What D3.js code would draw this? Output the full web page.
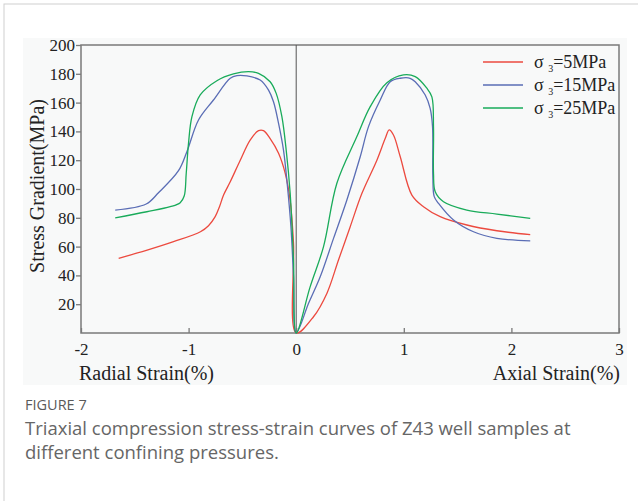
<!DOCTYPE html>
<html>
<head>
<meta charset="utf-8">
<script src="https://cdn.jsdelivr.net/npm/d3@7"></script>
<style>
  body { margin: 0; background: #fff; }
  svg { display: block; }
</style>
</head>
<body>
<div id="viz"></div>
<script>
// strain (%) : negative = radial, positive = axial ; stress (MPa)
var xTicks = [-2, -1, 0, 1, 2, 3];
var yTicks = [20, 40, 60, 80, 100, 120, 140, 160, 180, 200];
var seriesNames = ["5MPa", "15MPa", "25MPa"];
var seriesColors = ["#ec4a3f", "#5a6db5", "#19ab5a"];

var strain5 = [-1.65, -1.40, -1.14, -0.89, -0.815, -0.753, -0.713, -0.675, -0.613, -0.52, -0.428, -0.35, -0.304, -0.242, -0.164, -0.102, -0.056, -0.025, 0,
  0.161, 0.285, 0.393, 0.502, 0.611, 0.75, 0.827, 0.864, 0.904, 0.967, 1.075, 1.183, 1.338, 1.586, 1.865, 2.175];
var stress5 = [51.9, 57.2, 63.4, 70.3, 74.5, 80.8, 87.7, 95.8, 105, 120, 134, 140.5, 140.5, 135, 124.8, 110.9, 92, 62.3, 0,
  11.3, 27.5, 50.7, 73.8, 97, 120, 135, 141, 137.5, 122.4, 95.8, 87.7, 80.8, 75, 71, 68.3];

var strain15 = [-1.682, -1.394, -1.28, -1.094, -1.016, -0.908, -0.769, -0.613, -0.551, -0.458, -0.335, -0.257, -0.211, -0.164, -0.118, -0.081, -0.049, -0.025, 0,
  0.115, 0.223, 0.347, 0.471, 0.595, 0.672, 0.781, 0.874, 0.967, 1.059, 1.106, 1.199, 1.245, 1.267, 1.27, 1.283, 1.323, 1.462, 1.648, 1.865, 2.175];
var stress15 = [85.4, 89.6, 97.4, 112.7, 125.9, 147.9, 161.8, 176.9, 178.7, 178.5, 175.7, 168.7, 160.6, 145.6, 127, 101.6, 73.8, 39, 0,
  20.6, 39, 65.7, 92.4, 122.4, 143.3, 161.8, 174.5, 176.9, 176.9, 174.5, 165.3, 156, 143.3, 108.5, 94.7, 90, 78.5, 70.3, 65.7, 64];

var strain25 = [-1.682, -1.388, -1.171, -1.078, -1.041, -1.022, -1.001, -0.969, -0.892, -0.737, -0.583, -0.443, -0.35, -0.242, -0.186, -0.133, -0.093, -0.056, -0.025, 0,
  0.13, 0.254, 0.378, 0.564, 0.688, 0.843, 0.997, 1.106, 1.214, 1.261, 1.276, 1.276, 1.292, 1.369, 1.586, 1.865, 2.175];
var stress25 = [80, 84.2, 87.7, 90.5, 95.1, 110.9, 131.6, 150.2, 165.3, 175.2, 179.9, 181.5, 180.3, 174.5, 166.4, 150.2, 127, 97, 50.7, 0,
  32.2, 60, 104, 136.4, 157.2, 173.8, 179.2, 178, 170, 164, 143.3, 110.9, 98.1, 91.2, 85.4, 82.6, 79.6];

var strains = [strain5, strain15, strain25];
var stresses = [stress5, stress15, stress25];

var width = 638, height = 501;
var svg = d3.select("#viz").append("svg")
    .attr("width", width)
    .attr("height", height);

// page frame + figure background
svg.append("rect")
    .attr("x", 4).attr("y", 4)
    .attr("width", width + 10).attr("height", height + 10)
    .attr("fill", "#fff").attr("stroke", "#cfcfcf").attr("stroke-width", 1);
svg.append("rect")
    .attr("x", 23).attr("y", 38)
    .attr("width", 604).attr("height", 347)
    .attr("fill", "#f8f9f9");

var x = d3.scaleLinear().domain([-2, 3]).range([81, 619]);
var y = d3.scaleLinear().domain([0, 200]).range([333, 45]);

var serif = "'Liberation Serif', 'Times New Roman', serif";

// plot box
svg.append("rect")
    .attr("x", x(-2)).attr("y", y(200))
    .attr("width", x(3) - x(-2)).attr("height", y(0) - y(200))
    .attr("fill", "none").attr("stroke", "#7a7a7a").attr("stroke-width", 1.5);

// zero line
svg.append("line")
    .attr("x1", x(0)).attr("x2", x(0))
    .attr("y1", y(200)).attr("y2", y(0))
    .attr("stroke", "#555").attr("stroke-width", 1);

var fmt = function(d) { return String(d); };
var yAxis = svg.append("g")
    .attr("transform", "translate(" + x(-2) + ",0)")
    .call(d3.axisLeft(y).tickValues(yTicks).tickSize(5).tickPadding(1).tickFormat(fmt));
var xAxis = svg.append("g")
    .attr("transform", "translate(0," + y(0) + ")")
    .call(d3.axisBottom(x).tickValues(xTicks).tickSize(-5).tickPadding(10).tickFormat(fmt));

[yAxis, xAxis].forEach(function(a) {
    a.attr("font-family", serif).attr("font-size", 17);
    a.select(".domain").remove();
    a.selectAll(".tick line").attr("stroke", "#7a7a7a").attr("stroke-width", 1.3);
    a.selectAll(".tick text").attr("fill", "#222");
});

// curves
var line = d3.line()
    .x(function(d) { return x(d[0]); })
    .y(function(d) { return y(d[1]); })
    .curve(d3.curveCatmullRom.alpha(0.5));

for (var s = 0; s < strains.length; s++) {
    var pts = strains[s].map(function(v, i) { return [v, stresses[s][i]]; });
    svg.append("path")
        .datum(pts)
        .attr("d", line)
        .attr("fill", "none")
        .attr("stroke", seriesColors[s])
        .attr("stroke-width", 1.3);
}

// legend
var legend = svg.append("g");
seriesNames.forEach(function(name, i) {
    var ly = 62 + i * 23;
    legend.append("line")
        .attr("x1", 483).attr("x2", 523)
        .attr("y1", ly).attr("y2", ly)
        .attr("stroke", seriesColors[i]).attr("stroke-width", 1.5);
    var t = legend.append("text")
        .attr("x", 534).attr("y", ly + 6)
        .attr("fill", "#222")
        .style("font-family", serif)
        .style("font-size", "18px");
    t.append("tspan").text("σ ");
    t.append("tspan").attr("dy", 4).style("font-size", "10px").text("3");
    t.append("tspan").attr("dy", -4).text("=" + name);
});

// axis titles
svg.append("text")
    .attr("transform", "translate(44,186) rotate(-90)")
    .attr("text-anchor", "middle")
    .attr("fill", "#222")
    .style("font-family", serif)
    .style("font-size", "20px")
    .text("Stress Gradient(MPa)");
svg.append("text")
    .attr("x", 79).attr("y", 380)
    .attr("fill", "#222")
    .style("font-family", serif)
    .style("font-size", "20px")
    .text("Radial Strain(%)");
svg.append("text")
    .attr("x", 620).attr("y", 380)
    .attr("text-anchor", "end")
    .attr("fill", "#222")
    .style("font-family", serif)
    .style("font-size", "20px")
    .text("Axial Strain(%)");

// caption
svg.append("text")
    .attr("x", 25).attr("y", 410)
    .attr("fill", "#5a5a5a")
    .style("font-family", "'Open Sans', sans-serif")
    .style("font-size", "14.5px")
    .text("FIGURE 7");
var captionLines = ["Triaxial compression stress-strain curves of Z43 well samples at",
    "different confining pressures."];
captionLines.forEach(function(l, i) {
    svg.append("text")
        .attr("x", 25).attr("y", 435 + i * 24)
        .attr("fill", "#666")
        .style("font-family", "'Open Sans', sans-serif")
        .style("font-size", "18.5px")
        .text(l);
});
</script>
</body>
</html>
